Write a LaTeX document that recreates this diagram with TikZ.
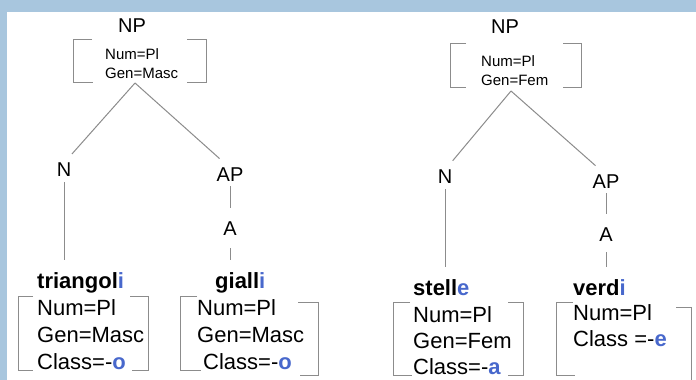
\documentclass[tikz,border=0pt]{standalone}
\usepackage{fontspec}
\setmainfont{Liberation Sans}
\definecolor{bgblue}{RGB}{168,198,222}
\definecolor{blu}{RGB}{72,104,204}
\definecolor{linegray}{RGB}{140,140,140}
\tikzset{
  lab/.style={inner sep=0pt, font=\fontsize{20}{24}\selectfont},
  smallfeat/.style={inner sep=0pt, anchor=west, align=left, font=\fontsize{15}{19}\selectfont},
  word/.style={inner sep=0pt, anchor=west, font=\fontsize{22}{26}\selectfont\bfseries},
  feat/.style={inner sep=0pt, anchor=west, align=left, font=\fontsize{22}{27}\selectfont},
  br/.style={draw=linegray, line width=1pt},
  edge/.style={draw=linegray, line width=1pt},
}
\newcommand{\bl}[1]{{\color{blu}\bfseries #1}}
\begin{document}
\begin{tikzpicture}[x=1pt,y=-1pt]
\useasboundingbox (0,0) rectangle (696,380);
\fill[bgblue] (0,0) rectangle (696,380);
\fill[white] (7,12) rectangle (696,380);

% ---------- left tree ----------
\node[lab] (NP1) at (132,26) {NP};
\node[smallfeat] (f1) at (105,63.5) {Num=Pl\\Gen=Masc};
\draw[br] (92,39) -- (73,39) -- (73,82) -- (93,82);
\draw[br] (187,39) -- (206,39) -- (206,82) -- (187,82);
\coordinate (a1) at (135,83);
\node[lab] (N1) at (64,170) {N};
\node[lab] (AP1) at (230,175) {AP};
\node[lab] (A1) at (230,229) {A};
\draw[edge,shorten >=12pt] (a1) -- (N1.north);
\draw[edge,shorten >=14pt] (a1) -- (AP1.north);

\node[word] (w1) at (37,283) {triangol\bl{i}};
\node[feat] (l1) at (37,335) {Num=Pl\\Gen=Masc\\Class=-\bl{o}};
\draw[br] (33,296) -- (18,296) -- (18,370) -- (33,370);
\draw[br] (130,296) -- (148,296) -- (148,370) -- (132,370);

\node[word] (w2) at (215,283) {gial\bfseries l\bl{i}};
\node[feat] (l2) at (197,335) {Num=Pl\\Gen=Masc\\\hspace*{6pt}Class=-\bl{o}};
\draw[br] (197,296) -- (180,296) -- (180,370) -- (201,370);
\draw[br] (298,302) -- (318,302) -- (318,375) -- (300,375);

\draw[edge,shorten <=5pt,shorten >=13pt] (N1.south) -- (N1.south |- w1.north);
\draw[edge,shorten <=4pt,shorten >=14pt] (AP1.south) -- (A1.north);
\draw[edge,shorten <=12pt,shorten >=13pt] (A1.south) -- (A1.south |- w2.north);

% ---------- right tree ----------
\node[lab] (NP2) at (505,27) {NP};
\node[smallfeat] (f2) at (481,70.5) {Num=Pl\\Gen=Fem};
\draw[br] (466,43) -- (450,43) -- (450,87) -- (466,87);
\draw[br] (563,43) -- (581,43) -- (581,87) -- (563,87);
\coordinate (a2) at (511,91);
\node[lab] (N2) at (445,177) {N};
\node[lab] (AP2) at (606,182) {AP};
\node[lab] (A2) at (606,235) {A};
\draw[edge,shorten >=12pt] (a2) -- (N2.north);
\draw[edge,shorten >=14pt] (a2) -- (AP2.north);

\node[word] (w3) at (413,288) {stell\bl{e}};
\node[feat, font=\fontsize{22}{26}\selectfont] (l3) at (413,341) {Num=Pl\\Gen=Fem\\Class=-\bl{a}};
\draw[br] (410,302) -- (393,302) -- (393,375) -- (412,375);
\draw[br] (508,302) -- (523,302) -- (523,375) -- (508,375);

\node[word] (w4) at (573,288) {verd\bl{i}};
\node[feat, font=\fontsize{22}{26}\selectfont, anchor=north west] (l4) at (573,304) {Num=Pl\\Class =-\bl{e}};
\draw[br] (573,302) -- (556,302) -- (556,375) -- (575,375);
\draw[br] (676,307) -- (691,307) -- (691,380);

\draw[edge,shorten <=5pt,shorten >=13pt] (N2.south) -- (N2.south |- w3.north);
\draw[edge,shorten <=4pt,shorten >=14pt] (AP2.south) -- (A2.north);
\draw[edge,shorten <=10pt,shorten >=13pt] (A2.south) -- (A2.south |- w4.north);
\end{tikzpicture}
\end{document}
